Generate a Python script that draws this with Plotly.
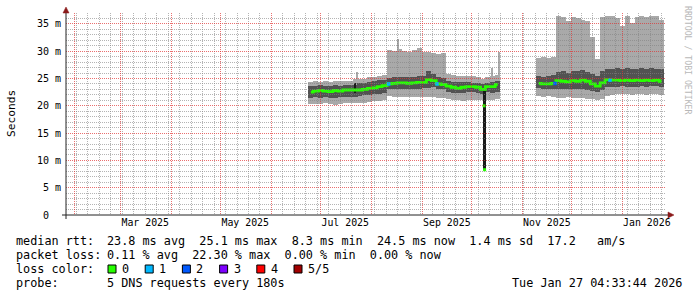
import plotly.graph_objects as go
import pandas as pd

MONO = "DejaVu Sans Mono"
DAY = 86400000

# ---------------- data ----------------
x_start = "2025-01-26 16:00"
x_end = "2026-01-27 16:00"
x_label_dates = ["2025-03-16", "2025-05-16", "2025-07-16", "2025-09-16", "2025-11-16", "2026-01-16"]
x_label_text = ["Mar 2025", "May 2025", "Jul 2025", "Sep 2025", "Nov 2025", "Jan 2026"]
y_tick_vals = [0, 5, 10, 15, 20, 25, 30, 35]
y_tick_text = ["0  ", "5 m", "10 m", "15 m", "20 m", "25 m", "30 m", "35 m"]

# segment 1 (3-day bins), values in ms
s1_dates = ["2025-06-25", "2025-06-28", "2025-07-01", "2025-07-04", "2025-07-07", "2025-07-10",
            "2025-07-13", "2025-07-16", "2025-07-19", "2025-07-22", "2025-07-25", "2025-07-28",
            "2025-07-31", "2025-08-03", "2025-08-06", "2025-08-09", "2025-08-12", "2025-08-15",
            "2025-08-18", "2025-08-21", "2025-08-24", "2025-08-27", "2025-08-30", "2025-09-02",
            "2025-09-05", "2025-09-08", "2025-09-11", "2025-09-14", "2025-09-17", "2025-09-20",
            "2025-09-23", "2025-09-26", "2025-09-29", "2025-10-02", "2025-10-05", "2025-10-08",
            "2025-10-11", "2025-10-14", "2025-10-17"]
s1_min = [20.3, 20.4, 20.3, 20.5, 20.3, 20.2, 20.4, 20.5, 20.5, 20.6,
          20.5, 20.6, 20.7, 20.8, 20.9, 21.0,
          21.8, 21.6, 21.7, 21.7, 21.6, 21.7, 21.6, 21.7, 21.6, 21.7, 21.5, 21.4,
          21.2, 21.0, 21.0, 20.9, 21.0, 21.1, 21.1, 21.0, 21.1, 21.0, 21.2]
s1_lo = [21.5, 21.6, 21.5, 21.6, 21.5, 21.5, 21.6, 21.7, 21.7, 21.6,
         21.8, 21.9, 22.0, 22.1, 22.2, 22.4,
         23.0, 23.0, 23.1, 23.0, 23.0, 23.1, 23.1, 23.2, 23.2, 23.4, 23.1, 23.0,
         22.6, 22.4, 22.3, 22.4, 22.5, 22.5, 22.4, 22.2, 22.5, 22.4, 22.6]
s1_med = [22.5, 22.7, 22.8, 22.7, 22.6, 22.8, 22.7, 22.9, 22.9, 22.9,
          22.9, 23.0, 23.2, 23.3, 23.5, 23.7,
          24.0, 24.1, 24.2, 24.2, 24.1, 24.2, 24.3, 24.3, 24.8, 24.6, 24.0, 23.9,
          23.6, 23.4, 23.2, 23.4, 23.5, 23.5, 23.4, 23.0, 23.5, 23.5, 23.9]
s1_hi = [23.6, 23.7, 23.8, 23.7, 23.6, 23.8, 23.7, 23.9, 23.9, 23.8,
         24.1, 24.2, 24.4, 24.5, 24.7, 24.8,
         25.1, 25.2, 25.3, 25.2, 25.3, 25.2, 25.4, 25.4, 26.4, 25.8, 25.2, 25.1,
         24.6, 24.4, 24.3, 24.3, 24.3, 24.2, 24.2, 24.0, 24.2, 24.3, 24.6]
s1_max = [24.3, 24.5, 24.4, 24.6, 24.4, 24.5, 24.5, 24.6, 24.6, 25.0,
          24.9, 25.0, 25.2, 25.3, 25.5, 25.6,
          30.2, 30.0, 30.4, 30.1, 29.9, 30.3, 30.6, 29.9, 29.8, 29.6, 29.5, 29.6,
          25.8, 25.6, 25.5, 25.4, 25.5, 25.4, 25.3, 25.0, 25.3, 25.5, 25.6]

# segment 2 (3-day bins)
s2_dates = ["2025-11-11", "2025-11-14", "2025-11-17", "2025-11-20", "2025-11-23", "2025-11-26",
            "2025-11-29", "2025-12-02", "2025-12-05", "2025-12-08", "2025-12-11", "2025-12-14",
            "2025-12-17", "2025-12-20", "2025-12-23", "2025-12-26", "2025-12-29", "2026-01-01",
            "2026-01-04", "2026-01-07", "2026-01-10", "2026-01-13", "2026-01-16", "2026-01-19",
            "2026-01-22", "2026-01-25"]
s2_min = [21.8, 21.7, 21.8, 21.6, 21.5, 21.4, 21.6, 21.5, 21.4, 21.5, 21.3, 21.2, 21.0,
          21.3, 21.8, 22.0, 22.1, 22.2, 22.1, 22.0, 22.2, 22.1, 22.0, 22.1, 22.2, 21.9]
s2_lo = [23.2, 23.1, 23.0, 23.0, 23.1, 23.0, 23.0, 23.1, 23.0, 23.1, 22.9, 22.8, 22.6,
         22.9, 23.4, 23.5, 23.5, 23.6, 23.5, 23.4, 23.5, 23.6, 23.5, 23.6, 23.6, 23.4]
s2_med = [24.1, 24.0, 24.0, 24.1, 24.6, 24.5, 24.4, 24.6, 24.5, 24.7, 24.5, 24.0, 23.6,
          24.2, 24.8, 24.7, 24.7, 24.6, 24.7, 24.6, 24.7, 24.6, 24.7, 24.6, 24.7, 24.5]
s2_hi = [25.4, 25.3, 25.5, 25.6, 26.2, 26.3, 26.1, 26.4, 26.3, 26.5, 26.2, 25.9, 25.5,
         26.3, 26.7, 26.8, 26.9, 26.8, 26.9, 26.7, 26.8, 26.9, 26.8, 26.9, 26.8, 26.7]
s2_max = [28.8, 29.0, 28.7, 29.0, 36.4, 36.2, 35.6, 36.3, 36.0, 35.8, 35.5, 32.6, 28.5,
          36.2, 36.5, 36.4, 36.0, 34.6, 36.4, 35.2, 36.2, 36.5, 36.3, 36.5, 36.4, 35.8]

# narrow smoke spikes
spike_dates = ["2025-07-23 08:00", "2025-08-17 06:00", "2025-10-13 08:00", "2025-10-18 02:00"]
spike_low = [24.5, 30.0, 25.3, 25.5]
spike_high = [26.2, 32.2, 27.0, 29.9]

# dark (black) narrow smoke columns
black_dates = ["2025-07-21 22:00", "2025-10-08 20:00"]
black_low = [22.3, 8.2]
black_high = [24.2, 22.8]
black_width_days = [0.7, 1.6]

# the median dip
dip_dates = ["2025-10-08 16:00", "2025-10-09 00:00"]
dip_vals = [20.0, 8.3]

# median points with packet loss
loss_dates = ["2025-08-11 12:00", "2025-09-10 00:00", "2025-11-21 00:00", "2025-12-24 12:00"]
loss_vals = [24.0, 24.0, 24.1, 24.7]
loss_level = [1, 1, 2, 1]

loss_labels = ["0", "1", "2", "3", "4", "5/5"]
loss_colors = ["#26ff00", "#00b8ff", "#0059ff", "#7e00ff", "#ff0000", "#a10000"]

rtt_label = "median rtt:"
rtt_stats = ["23.8 ms avg", "25.1 ms max", "8.3 ms min", "24.5 ms now", "1.4 ms sd", "17.2   am/s"]
pl_label = "packet loss:"
pl_stats = ["0.11 % avg", "22.30 % max", "0.00 % min", "0.00 % now"]
lc_label = "loss color:"
probe_label = "probe:"
probe_text = "5 DNS requests every 180s"
stamp_text = "Tue Jan 27 04:33:44 2026"

# ---------------- style ----------------
LIGHT = "#a9a9a9"
DARK = "#525252"
MGRID = "rgba(225,50,50,0.7)"
GRID = "rgba(130,130,130,0.6)"
AXIS = "#222222"
ARROW = "#8b1a1a"
LEG_SIZE = 11.8
COL2 = 107

L, R, T, B = 66, 666, 13, 215
W, H = 697, 297


def px(x):
    return (x - L) / (R - L)


def py(y):
    return (B - y) / (B - T)


def nb(s):
    return s.replace(" ", "\u00a0")


fig = go.Figure()


def add_bars(dates, low, high, color, width):
    fig.add_trace(go.Bar(
        x=pd.to_datetime(dates), base=low,
        y=[h - l for h, l in zip(high, low)],
        width=width, marker=dict(color=color, line=dict(width=0)),
        hoverinfo="skip", showlegend=False))


all_dates = s1_dates + s2_dates
add_bars(all_dates, s1_min + s2_min, s1_max + s2_max, LIGHT, 3.05 * DAY)
add_bars(spike_dates, spike_low, spike_high, LIGHT, 0.7 * DAY)
add_bars(all_dates, s1_lo + s2_lo, s1_hi + s2_hi, DARK, 3.05 * DAY)
add_bars(black_dates, black_low, black_high, "#1a1a1a", [w * DAY for w in black_width_days])

for d, m in ((s1_dates, s1_med), (s2_dates, s2_med)):
    fig.add_trace(go.Scatter(
        x=pd.to_datetime(d), y=m, mode="lines",
        line=dict(color=loss_colors[0], width=2.8, shape="hvh"),
        hoverinfo="skip", showlegend=False))

fig.add_trace(go.Scatter(
    x=pd.to_datetime(dip_dates), y=dip_vals, mode="markers",
    marker=dict(symbol="square", size=3, color=loss_colors[0], line=dict(width=0)),
    hoverinfo="skip", showlegend=False))

fig.add_trace(go.Scatter(
    x=pd.to_datetime(loss_dates), y=loss_vals, mode="markers",
    marker=dict(symbol="square", size=3.5, color=[loss_colors[k] for k in loss_level], line=dict(width=0)),
    hoverinfo="skip", showlegend=False))

# invisible anchor for the grid subplot (drawn above the smoke, like rrdtool)
fig.add_trace(go.Scatter(
    x=pd.to_datetime(s1_dates[:1]), y=s1_med[:1], mode="markers",
    marker=dict(opacity=0), xaxis="x2", yaxis="y2",
    hoverinfo="skip", showlegend=False))

annotations = []


def text(x, y, s, size=LEG_SIZE, anchor="left", color="black", angle=0):
    annotations.append(dict(
        x=px(x), y=py(y), xref="paper", yref="paper", text=nb(s), showarrow=False,
        xanchor=anchor, yanchor="middle", textangle=angle,
        font=dict(family=MONO, size=size, color=color), borderpad=0, borderwidth=0))


text(16, 241, rtt_label)
text(COL2, 241, "  ".join(rtt_stats))
text(16, 255, pl_label)
text(COL2, 255, "  ".join(pl_stats))
text(16, 269, lc_label)
shapes = []
for k, (lab, col) in enumerate(zip(loss_labels, loss_colors)):
    xx = 108 + k * 37.2
    shapes.append(dict(type="rect", xref="paper", yref="paper",
                       x0=px(xx), x1=px(xx + 8), y0=py(273), y1=py(265),
                       fillcolor=col, line=dict(color="black", width=1)))
    text(xx + 14, 269, lab)
text(16, 283, probe_label)
text(COL2, 283, probe_text)
text(682, 283, stamp_text, anchor="right")

text(11, 114, "Seconds", size=11.2, anchor="center", angle=-90)
text(688, 60, "RRDTOOL / TOBI OETIKER", size=8.2, anchor="center", color="#b8b8b8", angle=90)

# axis lines with arrows
shapes.append(dict(type="line", xref="paper", yref="paper", x0=px(62), x1=px(669), y0=0, y1=0,
                   line=dict(color=AXIS, width=1)))
shapes.append(dict(type="line", xref="paper", yref="paper", x0=0, x1=0, y0=py(219), y1=py(12),
                   line=dict(color=AXIS, width=1)))
shapes.append(dict(type="path", xref="paper", yref="paper",
                   path=f"M {px(668)},{py(212)} L {px(674)},{py(215)} L {px(668)},{py(218)} Z",
                   fillcolor=ARROW, line=dict(color=ARROW, width=0.5)))
shapes.append(dict(type="path", xref="paper", yref="paper",
                   path=f"M {px(63)},{py(13)} L {px(66)},{py(7)} L {px(69)},{py(13)} Z",
                   fillcolor=ARROW, line=dict(color=ARROW, width=0.5)))

fig.update_layout(
    width=W, height=H,
    margin=dict(l=L, r=W - R, t=T, b=H - B, pad=0),
    paper_bgcolor="white", plot_bgcolor="rgba(0,0,0,0)",
    barmode="overlay", bargap=0, showlegend=False,
    font=dict(family=MONO, color="black"),
    xaxis=dict(type="date", range=[x_start, x_end], tickmode="array",
               tickvals=x_label_dates, ticktext=x_label_text,
               showgrid=False, zeroline=False, showline=False, ticks="",
               tickfont=dict(family=MONO, size=9.9, color="black")),
    yaxis=dict(range=[0, 37], tickmode="array", tickvals=y_tick_vals,
               ticktext=[nb(t) for t in y_tick_text],
               showgrid=False, zeroline=False, showline=False, ticks="",
               ticklabelstandoff=4,
               tickfont=dict(family=MONO, size=10, color="black")),
    xaxis2=dict(type="date", matches="x", anchor="y2",
                showgrid=True, tickmode="linear", dtick="M1", tick0="2025-01-01",
                gridcolor=MGRID, griddash="1px,1px", gridwidth=1,
                showticklabels=False, ticks="", zeroline=False, showline=False,
                minor=dict(tickmode="linear", dtick=7 * DAY, tick0="2025-01-05", showgrid=True,
                           gridcolor=GRID, griddash="1px,1px", gridwidth=1, ticks="")),
    yaxis2=dict(matches="y", anchor="x2", showgrid=True, tickmode="linear", dtick=5, tick0=0,
                gridcolor=MGRID, griddash="1px,1px", gridwidth=1,
                showticklabels=False, ticks="", zeroline=False, showline=False,
                minor=dict(tickmode="linear", dtick=1, tick0=0, showgrid=True,
                           gridcolor=GRID, griddash="1px,1px", gridwidth=1, ticks="")),
    annotations=annotations, shapes=shapes,
)

fig.write_html("out.html")
